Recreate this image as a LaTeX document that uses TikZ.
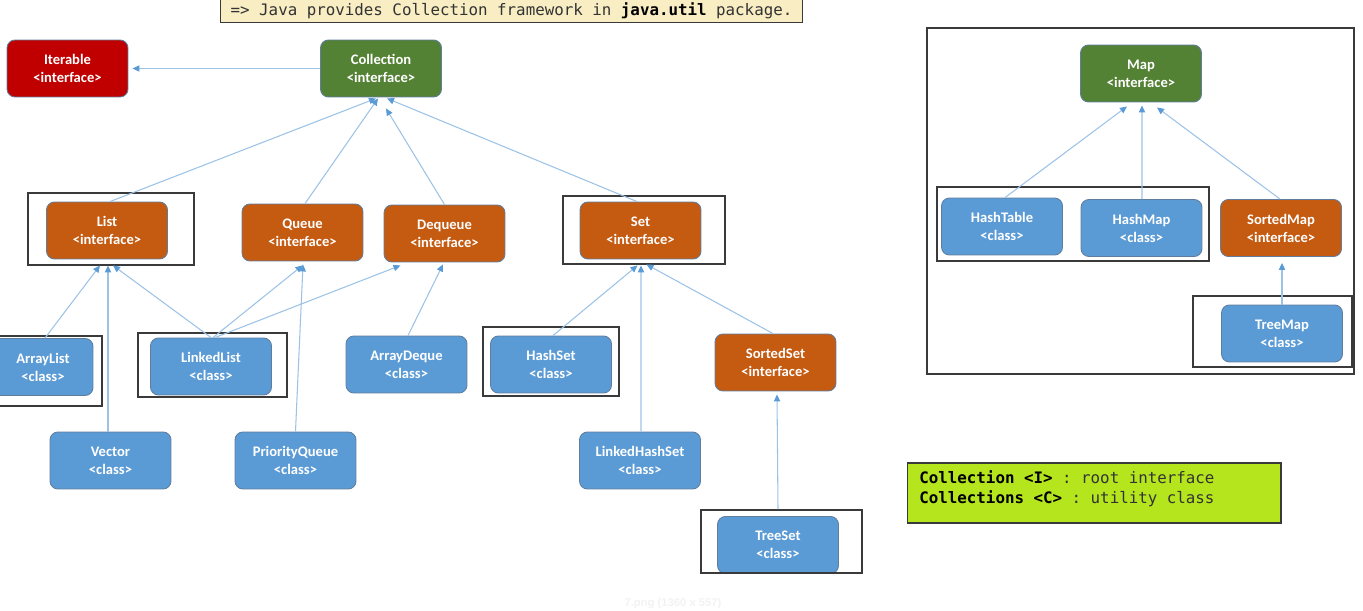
\documentclass[tikz,border=0pt]{standalone}
\usepackage{fontspec}
\setmainfont{Carlito}
\setmonofont{DejaVu Sans Mono}
\newfontfamily\markfont{Liberation Sans}
\usetikzlibrary{arrows.meta,fit,calc}

\definecolor{clsblue}{HTML}{5B9BD5}
\definecolor{ifaceorange}{HTML}{C55A11}
\definecolor{rootgreen}{HTML}{548235}
\definecolor{topred}{HTML}{C00000}
\definecolor{nodeedge}{HTML}{5F7E9E}
\definecolor{linkblue}{HTML}{9CC2E6}
\definecolor{tipblue}{HTML}{5B9BD5}
\definecolor{groupedge}{HTML}{3A3A3A}
\definecolor{bannerfill}{HTML}{F8EDC3}
\definecolor{legendfill}{HTML}{B5E51D}
\definecolor{bodytext}{HTML}{333333}

\tikzset{
  box/.style={rounded corners=4.5pt, minimum width=2.42cm, minimum height=1.14cm,
    inner sep=0pt, align=center, text=white, draw=nodeedge, line width=0.5pt,
    font=\fontsize{8.3}{10.2}\selectfont\bfseries},
  cls/.style={box, fill=clsblue},
  iface/.style={box, fill=ifaceorange},
  rootbox/.style={box, fill=rootgreen},
  topbox/.style={box, fill=topred},
  groupbox/.style={draw=groupedge, line width=0.8pt, inner sep=0pt},
  inh/.style={draw=linkblue, line width=0.6pt,
    -{Triangle[length=4pt, width=3.6pt, color=tipblue]}},
}

\begin{document}
\begin{tikzpicture}[x=0.02cm, y=-0.02cm]
\useasboundingbox (0,0) rectangle (1363,611);
\clip (0,0) rectangle (1363,611);

% heading note
\node[draw=groupedge, line width=0.6pt, fill=bannerfill, minimum width=11.66cm,
  minimum height=0.48cm, inner sep=0pt,
  font=\ttfamily\fontsize{9}{11}\selectfont, text=bodytext]
  (banner) at (511.5,10.5)
  {=> Java provides Collection framework in \textbf{\color{black}java.util} package.};

% Collection hierarchy
\node[topbox]  (iterable)   at (67.5,68.5)  {Iterable\\<interface>};
\node[rootbox] (collection) at (381,68.5)   {Collection\\<interface>};

\node[iface] (list)    at (107,230.5)   {List\\<interface>};
\node[iface] (queue)   at (302.5,232.5) {Queue\\<interface>};
\node[iface] (dequeue) at (444.5,233.5) {Dequeue\\<interface>};
\node[iface] (set)     at (640.5,230.5) {Set\\<interface>};

\node[cls, minimum width=2.0cm] (arraylist) at (43,367) {ArrayList\\<class>};
\node[cls] (linkedlist)  at (211,366.5)   {LinkedList\\<class>};
\node[cls] (vector)      at (110.5,460.5) {Vector\\<class>};
\node[cls] (pqueue)      at (295.5,460.5) {PriorityQueue\\<class>};
\node[cls] (arraydeque)  at (406.5,364.5) {ArrayDeque\\<class>};
\node[cls] (hashset)     at (551,364.5)   {HashSet\\<class>};
\node[iface] (sortedset) at (775.5,362.5) {SortedSet\\<interface>};
\node[cls] (lhset)       at (640,460.5)   {LinkedHashSet\\<class>};
\node[cls] (treeset)     at (778,545)     {TreeSet\\<class>};

% frames around the implementations
\node[groupbox, fit={(28,193) (194,265)}]   (listgrp) {};
\node[groupbox, fit={(-2,336) (102,406)}]   (arraylistgrp) {};
\node[groupbox, fit={(138,333) (287,397)}]  (linkedlistgrp) {};
\node[groupbox, fit={(563,196) (725,264)}]  (setgrp) {};
\node[groupbox, fit={(483,327) (619,396)}]  (hashsetgrp) {};
\node[groupbox, fit={(701,510) (862,573)}]  (treesetgrp) {};

% Map hierarchy
\node[groupbox, fit={(927,28) (1354,374)}]  (mapframe) {};
\node[rootbox] (map)       at (1141,73.5)   {Map\\<interface>};
\node[cls]     (hashtable) at (1002,226.5)  {HashTable\\<class>};
\node[cls]     (hashmap)   at (1141.5,228)  {HashMap\\<class>};
\node[iface]   (sortedmap) at (1281,228)    {SortedMap\\<interface>};
\node[cls]     (treemap)   at (1282,333.5)  {TreeMap\\<class>};
\node[groupbox, fit={(937,187) (1209,261)}]  (hashgrp) {};
\node[groupbox, fit={(1193,296) (1352,367)}] (treemapgrp) {};

% inheritance links
\draw[inh] (collection.west) -- ($(iterable.east)+(4,0)$);
\draw[inh] ($(list.north)+(3,0)$)    -- ($(collection.south)+(-5,1)$);
\draw[inh] ($(queue.north)+(2.5,0)$) -- ($(collection.south)+(-3,1)$);
\draw[inh] (dequeue.north)           -- ($(collection.south)+(5,11)$);
\draw[inh] ($(set.north)+(-3.5,0)$)  -- ($(collection.south)+(6,1)$);

\draw[inh] ($(arraylist.north)+(2,0)$)   -- ($(list.south)+(-7,6)$);
\draw[inh] ($(vector.north)+(-2.5,0)$)   -- ($(list.south)+(1,6)$);
\draw[inh] (linkedlist.north)            -- ($(list.south)+(6,6)$);
\draw[inh] ($(linkedlist.north)+(2,0)$)  -- ($(queue.south)+(0,4)$);
\draw[inh] ($(linkedlist.north)+(4,0)$)  -- ($(dequeue.south)+(-44,3)$);
\draw[inh] (pqueue.north)                -- ($(queue.south)+(0.5,3)$);
\draw[inh] ($(arraydeque.north)+(1.5,0)$) -- ($(dequeue.south)+(-1.5,2)$);

\draw[inh] ($(hashset.north)+(2,0)$)     -- ($(set.south)+(-3,6)$);
\draw[inh] ($(lhset.north)+(1,0)$)       -- ($(set.south)+(0.5,6)$);
\draw[inh] ($(sortedset.north)+(-2.5,0)$) -- ($(set.south)+(6,5)$);
\draw[inh] ($(treeset.north)+(0,-7)$)    -- ($(sortedset.south)+(1.5,3)$);

\draw[inh] ($(hashtable.north)+(3,0)$)   -- ($(map.south)+(-14,4)$);
\draw[inh] ($(hashmap.north)+(0.5,0)$)   -- ($(map.south)+(1,3)$);
\draw[inh] ($(sortedmap.north)+(-1,0)$)  -- ($(map.south)+(16,5)$);
\draw[inh] (treemap.north)               -- ($(sortedmap.south)+(1,6)$);

% legend
\node[draw=groupedge, line width=0.6pt, fill=legendfill, minimum width=7.48cm,
  minimum height=1.2cm, inner sep=0pt] (legend) at (1094,493) {};
\node[anchor=west, inner sep=0pt, align=left, text=bodytext,
  font=\ttfamily\fontsize{9}{11.3}\selectfont] (legendtext) at (919,489)
  {\textbf{\color{black}Collection <I>} : root interface\\
   \textbf{\color{black}Collections <C>} : utility class};

% image caption
\node[text=black!5, font=\markfont\bfseries\fontsize{6.4}{7}\selectfont]
  (caption) at (673,604) {7.png (1360 x 557)};
\end{tikzpicture}
\end{document}
